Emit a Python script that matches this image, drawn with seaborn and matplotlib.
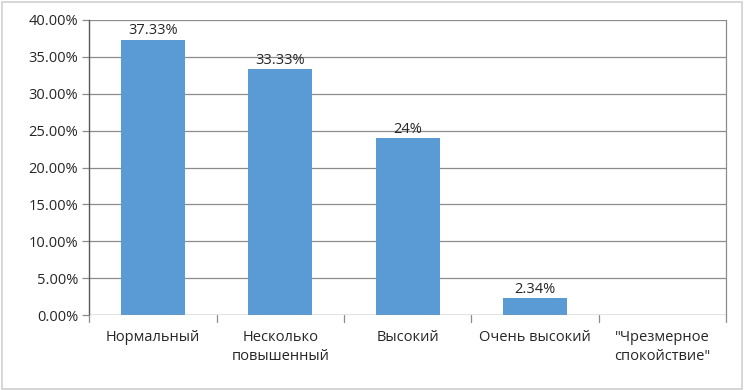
import matplotlib
matplotlib.use("Agg")
import matplotlib.pyplot as plt
import seaborn as sns
import pandas as pd
from matplotlib.ticker import FuncFormatter, FixedLocator

sns.set_style("white")
plt.rcParams['font.family'] = ['Open Sans', 'DejaVu Sans']

# data
categories = ['Нормальный', 'Несколько\nповышенный', 'Высокий', 'Очень высокий', '"Чрезмерное\nспокойствие"']
values = [37.33, 33.33, 24.0, 2.34, 0.0]
labels = ['37.33%', '33.33%', '24%', '2.34%', '']

df = pd.DataFrame({'category': categories, 'value': values})

fig = plt.figure(figsize=(7.44, 3.9), dpi=100)
ax = fig.add_axes([0.12, 0.192, 0.856, 0.757])

sns.barplot(data=df, x='category', y='value', color='#5B9BD5', width=0.5,
            saturation=1, ax=ax, zorder=3, linewidth=0)

# data labels above the bars
for i, (v, lab) in enumerate(zip(values, labels)):
    if lab:
        ax.text(i, v + 0.15, lab, ha='center', va='bottom', fontsize=10.5, color='#262626')

ax.set_ylim(0, 40)
ax.set_xlim(-0.5, len(categories) - 0.5)
ax.yaxis.set_major_locator(FixedLocator([0, 5, 10, 15, 20, 25, 30, 35, 40]))
ax.yaxis.set_major_formatter(FuncFormatter(lambda y, _: f'{y:.2f}%'))
ax.grid(axis='y', color='#8c8c8c', linewidth=0.9, zorder=0)

ax.set_xlabel('')
ax.set_ylabel('')
ax.tick_params(axis='y', labelsize=10.5, colors='#262626', length=5, width=0.9,
               direction='out', left=True, color='#8c8c8c', pad=3)
ax.tick_params(axis='x', labelsize=10.5, colors='#262626', length=0, pad=11)

# category boundary tick marks under the axis
ax.set_xticks(range(len(categories)))
ax.set_xticklabels(categories, linespacing=1.35)
for b in [i - 0.5 for i in range(len(categories) + 1)]:
    ax.plot([b, b], [0, -0.9], color='#8c8c8c', linewidth=0.9, clip_on=False, zorder=4)

for side in ['top', 'bottom']:
    ax.spines[side].set_visible(False)
ax.spines['left'].set_color('#595959')
ax.spines['right'].set_color('#8c8c8c')
ax.spines['left'].set_linewidth(1.0)
ax.spines['right'].set_linewidth(0.9)
ax.axhline(0, color='#8c8c8c', linewidth=0.9, zorder=4)

# outer chart border
fig.patches.append(plt.Rectangle((0.003, 0.003), 0.994, 0.992, transform=fig.transFigure,
                                 fill=False, edgecolor='#d0d0d0', linewidth=1.2))

fig.savefig('out.png', dpi=100)
